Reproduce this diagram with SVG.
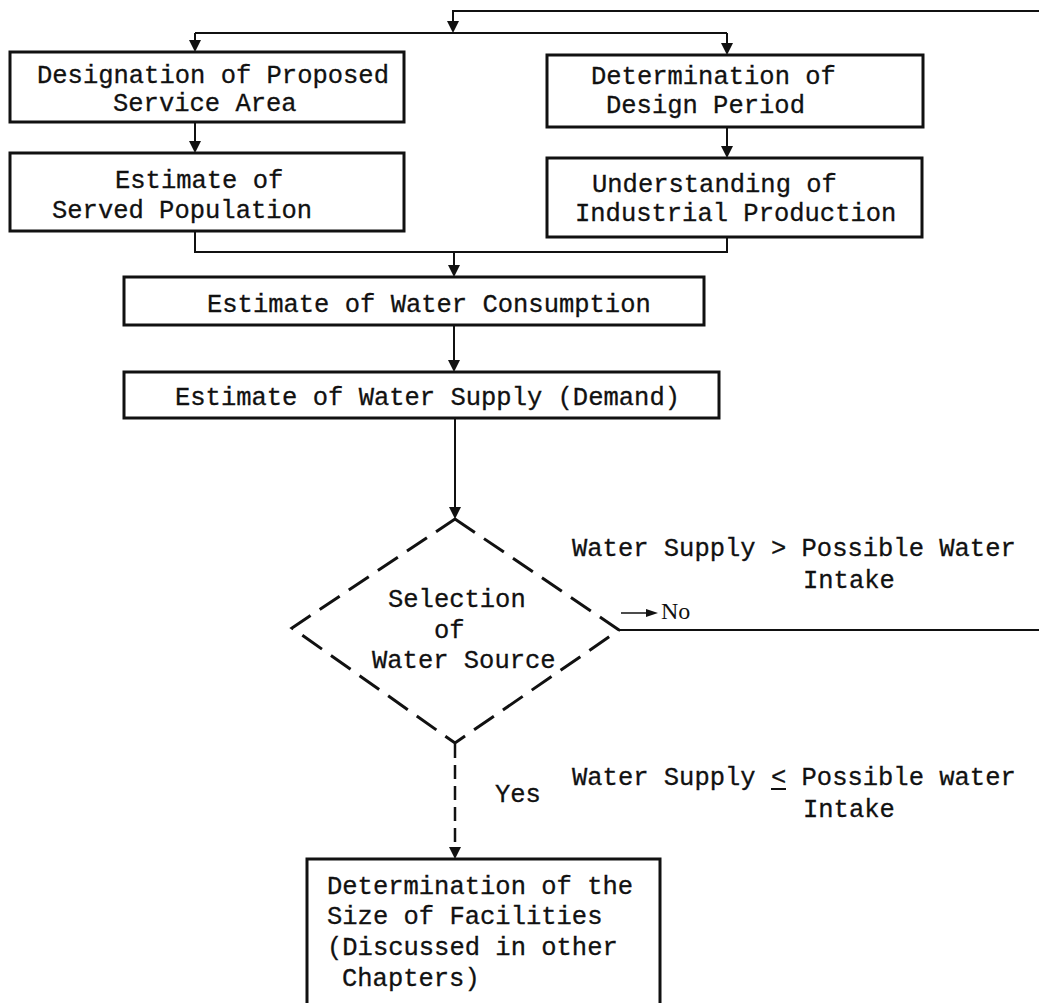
<svg xmlns="http://www.w3.org/2000/svg" width="1039" height="1003" viewBox="0 0 1039 1003">
<style>
.box{fill:#fff;stroke:#111;stroke-width:3}
.t{font-family:"Liberation Mono","DejaVu Sans Mono",monospace;font-size:25.5px;fill:#111;stroke:#111;stroke-width:0.3}
.c{fill:none;stroke:#111;stroke-width:2}
.d{fill:none;stroke:#111;stroke-width:3;stroke-dasharray:24 11}
.ah{fill:#111}
</style>
<rect width="1039" height="1003" fill="#fff"/>
<g id="connectors">
<path class="c" d="M1039,11 L453,11 L453,22"/>
<path class="ah" d="M447,21 L459,21 L453,33 Z"/>
<path class="c" d="M195,33 L727,33"/>
<line class="c" x1="195" y1="33" x2="195" y2="41"/>
<path class="ah" d="M189,40 L201,40 L195,52 Z"/>
<line class="c" x1="727" y1="33" x2="727" y2="44"/>
<path class="ah" d="M721,43 L733,43 L727,55 Z"/>
<line class="c" x1="195" y1="122" x2="195" y2="142"/>
<path class="ah" d="M189,141 L201,141 L195,153 Z"/>
<line class="c" x1="727" y1="127" x2="727" y2="147"/>
<path class="ah" d="M721,146 L733,146 L727,158 Z"/>
<path class="c" d="M195,231 L195,252 L727,252 L727,237"/>
<line class="c" x1="454" y1="252" x2="454" y2="266"/>
<path class="ah" d="M448,265 L460,265 L454,277 Z"/>
<line class="c" x1="454" y1="325" x2="454" y2="361"/>
<path class="ah" d="M448,360 L460,360 L454,372 Z"/>
<line class="c" x1="455" y1="418" x2="455" y2="508"/>
<path class="ah" d="M449,507 L461,507 L455,519 Z"/>
<line class="c" x1="619" y1="630" x2="1039" y2="630"/>
<line x1="621" y1="613" x2="650" y2="613" stroke="#111" stroke-width="1.5"/>
<path class="ah" d="M646,609 L658,613 L646,617 Z"/>
<line x1="455" y1="744" x2="455" y2="848" stroke="#111" stroke-width="2.5" stroke-dasharray="14 7"/>
<path class="ah" d="M449,847 L461,847 L455,859 Z"/>
</g>
<g id="n_area">
<rect class="box" x="10" y="52" width="394" height="70"/>
<text class="t" x="37" y="83">Designation of Proposed</text>
<text class="t" x="113" y="111">Service Area</text>
</g>
<g id="n_population">
<rect class="box" x="10" y="153" width="394" height="78"/>
<text class="t" x="115" y="188">Estimate of</text>
<text class="t" x="52" y="218">Served Population</text>
</g>
<g id="n_period">
<rect class="box" x="547" y="55" width="376" height="72"/>
<text class="t" x="591" y="84">Determination of</text>
<text class="t" x="606" y="113">Design Period</text>
</g>
<g id="n_industrial">
<rect class="box" x="547" y="158" width="375" height="79"/>
<text class="t" x="592" y="192">Understanding of</text>
<text class="t" x="575" y="221">Industrial Production</text>
</g>
<g id="n_consumption">
<rect class="box" x="124" y="277" width="580" height="48"/>
<text class="t" x="207" y="312">Estimate of Water Consumption</text>
</g>
<g id="n_supply">
<rect class="box" x="124" y="372" width="595" height="46"/>
<text class="t" x="175" y="405">Estimate of Water Supply (Demand)</text>
</g>
<g id="n_source">
<path class="d" d="M455,519 L619,630 L455,743 L292,628 Z"/>
<text class="t" x="388" y="607">Selection</text>
<text class="t" x="434" y="638">of</text>
<text class="t" x="372" y="668">Water Source</text>
</g>
<g id="labels">
<text x="661" y="619" font-family="Liberation Serif,serif" font-size="24" fill="#111">No</text>
<text class="t" x="572" y="556">Water Supply &gt; Possible Water</text>
<text class="t" x="803" y="588">Intake</text>
<text class="t" x="495" y="802">Yes</text>
<text class="t" x="572" y="785">Water Supply &lt; Possible water</text>
<line x1="771" y1="789" x2="786" y2="789" stroke="#111" stroke-width="2"/>
<text class="t" x="803" y="817">Intake</text>
</g>
<g id="n_size">
<rect class="box" x="307" y="859" width="353" height="160"/>
<text class="t" x="327" y="894">Determination of the</text>
<text class="t" x="327" y="924">Size of Facilities</text>
<text class="t" x="327" y="955">(Discussed in other</text>
<text class="t" x="342" y="986">Chapters)</text>
</g>
</svg>
